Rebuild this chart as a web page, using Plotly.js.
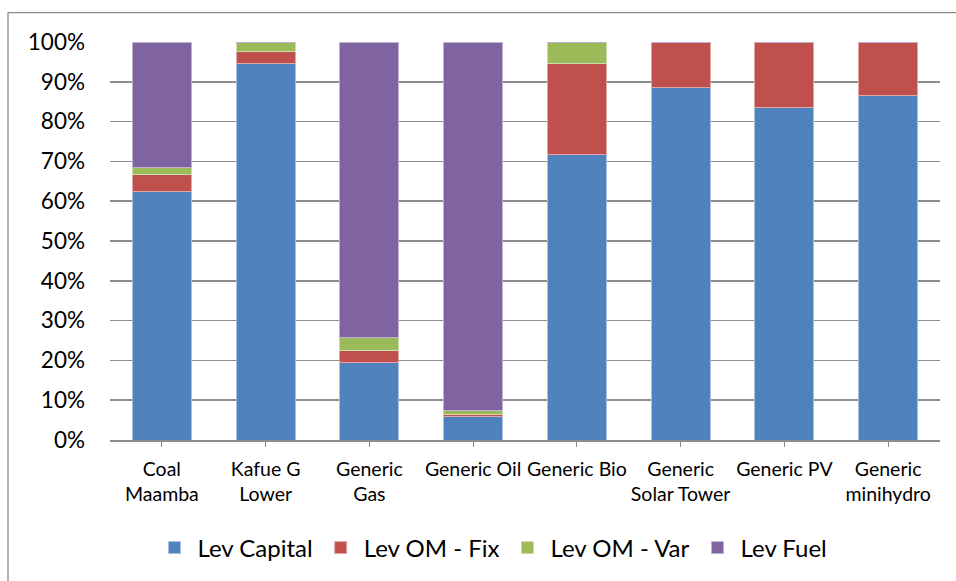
<!DOCTYPE html>
<html>
<head>
<meta charset="utf-8">
<script src="https://cdn.plot.ly/plotly-3.0.1.min.js"></script>
<style>
  html, body { margin: 0; padding: 0; background: #fff; }
  #chart { width: 956px; height: 581px; }
</style>
</head>
<body>
<div id="chart"></div>
<script>
const categories = ["Coal<br>Maamba", "Kafue G<br>Lower", "Generic<br>Gas", "Generic Oil", "Generic Bio", "Generic<br>Solar Tower", "Generic PV", "Generic<br>minihydro"];
const levCapital = [0.625, 0.947, 0.195, 0.059, 0.718, 0.886, 0.836, 0.866];
const levOMFix   = [0.042, 0.030, 0.030, 0.005, 0.229, 0.114, 0.164, 0.134];
const levOMVar   = [0.017, 0.023, 0.032, 0.009, 0.053, 0.000, 0.000, 0.000];
const levFuel    = [0.316, 0.000, 0.743, 0.927, 0.000, 0.000, 0.000, 0.000];
const seriesNames = ["Lev Capital", "Lev OM - Fix", "Lev OM - Var", "Lev Fuel"];
const colors = ["#4f81bd", "#c0504d", "#9bbb59", "#8064a2"];
const lineColors = ["#a7c0de", "#e0a7a6", "#cddcac", "#bfb1d0"];

const values = [levCapital, levOMFix, levOMVar, levFuel];
const FONT = "Lato, 'Open Sans', sans-serif";

const traces = values.map((v, i) => ({
  type: "bar",
  name: seriesNames[i],
  x: categories,
  y: v,
  width: 0.57,
  marker: { color: colors[i], line: { color: lineColors[i], width: 1 } },
  hoverinfo: "x+y+name"
}));

const L = 110, R = 16, T = 42, B = 140;
const W = 956, H = 581;
const pw = W - L - R, ph = H - T - B;
const px = x => (x - L) / pw;
const py = y => (H - B - y) / ph;

const layout = {
  width: W, height: H,
  margin: { l: L, r: R, t: T, b: B, pad: 0 },
  barmode: "stack",
  bargap: 0.43,
  paper_bgcolor: "#ffffff",
  plot_bgcolor: "#ffffff",
  font: { family: FONT, size: 19, color: "#000" },
  xaxis: {
    type: "category",
    showgrid: false,
    showline: true, linecolor: "#8c8c8c", linewidth: 1.5,
    ticks: "outside", ticklen: 5, tickcolor: "#8c8c8c", tickwidth: 1,
    tickfont: { family: FONT, size: 19.5, color: "#000" },
    ticklabelstandoff: 6,
    fixedrange: true
  },
  yaxis: {
    range: [0, 1],
    tickvals: [0, 0.1, 0.2, 0.3, 0.4, 0.5, 0.6, 0.7, 0.8, 0.9, 1.0],
    ticktext: ["0%", "10%", "20%", "30%", "40%", "50%", "60%", "70%", "80%", "90%", "100%"],
    showgrid: true, gridcolor: "#8c8c8c", gridwidth: 1.5,
    zeroline: false,
    showline: false,
    ticks: "",
    ticklabelstandoff: 24,
    tickfont: { family: FONT, size: 22.5, color: "#000" },
    fixedrange: true
  },
  legend: {
    orientation: "h",
    x: px(492), xanchor: "center",
    y: py(548), yanchor: "middle",
    font: { family: FONT, size: 24, color: "#000" },
    traceorder: "normal",
    itemwidth: 36,
    tracegroupgap: 0,
    bgcolor: "rgba(0,0,0,0)"
  },
  shapes: [
    { type: "line", xref: "paper", yref: "paper", x0: px(8), x1: px(8), y0: py(12.5), y1: py(600), line: { color: "#8a8a8a", width: 1.3 } },
    { type: "line", xref: "paper", yref: "paper", x0: px(8), x1: px(970), y0: py(12.5), y1: py(12.5), line: { color: "#8a8a8a", width: 1.3 } }
  ],
  showlegend: true
};

Plotly.newPlot("chart", traces, layout, { displayModeBar: false, staticPlot: true });
</script>
</body>
</html>
